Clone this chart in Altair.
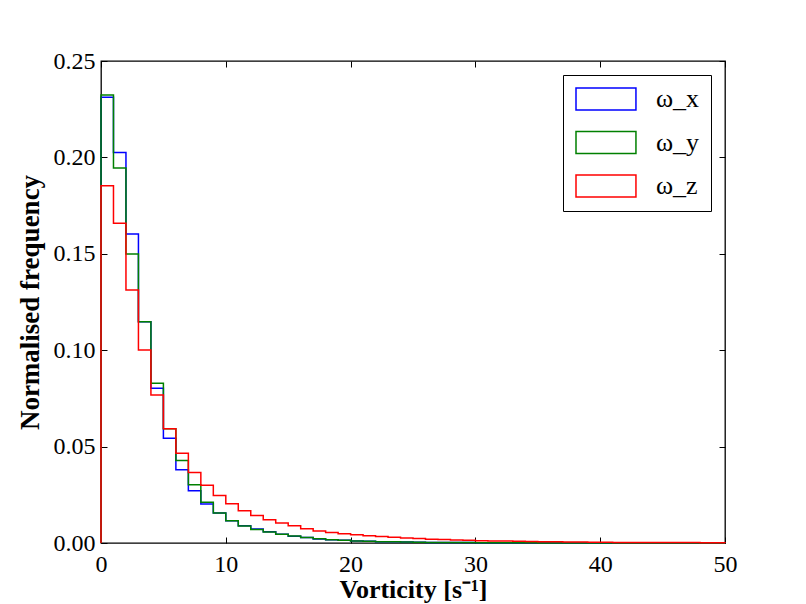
import altair as alt
import pandas as pd

# bin left edges (bin width 1, 0..50)
edges = list(range(50))
series_names = ["ω_x", "ω_y", "ω_z"]
series_colors = ["#0000ff", "#008000", "#ff0000"]

omega_x = [0.2312, 0.2026, 0.1603, 0.1148, 0.0802, 0.0543, 0.0380, 0.0271, 0.0202, 0.0155,
           0.0116, 0.0090, 0.0072, 0.0059, 0.0045, 0.0035, 0.0028, 0.0021, 0.0017, 0.0014,
           0.0011, 0.0009, 0.0007, 0.0006, 0.0005, 0.0004, 0.0003, 0.0003, 0.0002, 0.0002,
           0.0001, 0.0001, 0.0001, 0.0001, 0.0001, 0.0001, 0.0000, 0.0000, 0.0000, 0.0000,
           0.0000, 0.0000, 0.0000, 0.0000, 0.0000, 0.0000, 0.0000, 0.0000, 0.0000, 0.0000]
omega_y = [0.2324, 0.1945, 0.1499, 0.1148, 0.0828, 0.0592, 0.0428, 0.0302, 0.0212, 0.0155,
           0.0116, 0.0088, 0.0070, 0.0057, 0.0045, 0.0036, 0.0028, 0.0022, 0.0017, 0.0014,
           0.0011, 0.0009, 0.0007, 0.0006, 0.0005, 0.0004, 0.0003, 0.0003, 0.0002, 0.0002,
           0.0001, 0.0001, 0.0001, 0.0001, 0.0001, 0.0000, 0.0000, 0.0000, 0.0000, 0.0000,
           0.0000, 0.0000, 0.0000, 0.0000, 0.0000, 0.0000, 0.0000, 0.0000, 0.0000, 0.0000]
omega_z = [0.1853, 0.1658, 0.1312, 0.1001, 0.0768, 0.0592, 0.0466, 0.0366, 0.0299, 0.0247,
           0.0204, 0.0167, 0.0143, 0.0121, 0.0104, 0.0090, 0.0074, 0.0062, 0.0055, 0.0048,
           0.0043, 0.0038, 0.0034, 0.0030, 0.0026, 0.0023, 0.0020, 0.0018, 0.0016, 0.0014,
           0.0012, 0.0011, 0.0010, 0.0009, 0.0008, 0.0007, 0.0006, 0.0005, 0.0005, 0.0004,
           0.0004, 0.0003, 0.0003, 0.0003, 0.0002, 0.0002, 0.0002, 0.0002, 0.0001, 0.0001]

x_ticks = [0, 10, 20, 30, 40, 50]
y_ticks = [0.0, 0.05, 0.10, 0.15, 0.20, 0.25]

# build step-outline table (matplotlib histtype='step')
rows = []
for name, vals in zip(series_names, [omega_x, omega_y, omega_z]):
    seq = [(edges[0], 0.0)] + list(zip(edges, vals)) + [(edges[-1] + 1, vals[-1]), (edges[-1] + 1, 0.0)]
    for i, (e, v) in enumerate(seq):
        rows.append({"series": name, "edge": e, "freq": v, "idx": i})
df = pd.DataFrame(rows)

W, H = 624, 482
FONT = "Liberation Serif"

xscale = alt.Scale(domain=[0, 50], nice=False, zero=False)
yscale = alt.Scale(domain=[0, 0.25], nice=False)

lines = alt.Chart(df).mark_line(interpolate="step-after", strokeWidth=1.5).encode(
    x=alt.X("edge:Q", scale=xscale,
            axis=alt.Axis(values=x_ticks, format="d", title="Vorticity [s⁻¹]", ticks=False,
                          domain=False, grid=False, labelPadding=9, labelFlush=False,
                          labelFont=FONT, labelFontSize=24, labelColor="black",
                          titleFont=FONT, titleFontSize=26, titleFontWeight="bold",
                          titleColor="black", titleY=54, titleBaseline="alphabetic")),
    y=alt.Y("freq:Q", scale=yscale,
            axis=alt.Axis(values=y_ticks, format=".2f", title="Normalised frequency", ticks=False,
                          domain=False, grid=False, labelPadding=6, labelFlush=False,
                          labelFont=FONT, labelFontSize=24, labelColor="black",
                          titleFont=FONT, titleFontSize=27, titleFontWeight="bold",
                          titleColor="black", titleX=-57)),
    color=alt.Color("series:N", scale=alt.Scale(domain=series_names, range=series_colors),
                    legend=alt.Legend(title=None, orient="top-right", offset=14,
                                      strokeColor="black", fillColor="white", padding=11,
                                      symbolType="M-1,-1H4.45V1H-1Z", symbolSize=484,
                                      symbolStrokeWidth=1.5, symbolFillColor="white",
                                      labelFont=FONT, labelFontSize=26, labelOffset=56,
                                      rowPadding=15.5, labelColor="black")),
    order="idx:Q",
)

tick_common = dict(labels=False, domain=False, grid=False, ticks=True, tickSize=6,
                   tickColor="black", tickWidth=1, title=None)

ticks_a = alt.Chart(df).mark_line(opacity=0).encode(
    x=alt.X("edge:Q", scale=xscale, axis=alt.Axis(values=x_ticks, orient="top", offset=-H, **tick_common)),
    y=alt.Y("freq:Q", scale=yscale, axis=alt.Axis(values=y_ticks, orient="right", offset=-W, **tick_common)),
    detail="series:N",
)
ticks_b = alt.Chart(df).mark_line(opacity=0).encode(
    x=alt.X("edge:Q", scale=xscale, axis=alt.Axis(values=x_ticks, orient="bottom", offset=-H, **tick_common)),
    y=alt.Y("freq:Q", scale=yscale, axis=alt.Axis(values=y_ticks, orient="left", offset=-W, **tick_common)),
    detail="series:N",
)

chart = alt.layer(lines, ticks_a, ticks_b).resolve_axis(
    x="independent", y="independent"
).properties(
    width=W, height=H,
    autosize=alt.AutoSizeParams(type="none"),
    padding={"left": 93, "top": 53, "right": 72, "bottom": 61},
).configure_view(stroke="black", strokeWidth=1.3)

chart.save("out.html", embed_options={"renderer": "svg", "actions": False})
